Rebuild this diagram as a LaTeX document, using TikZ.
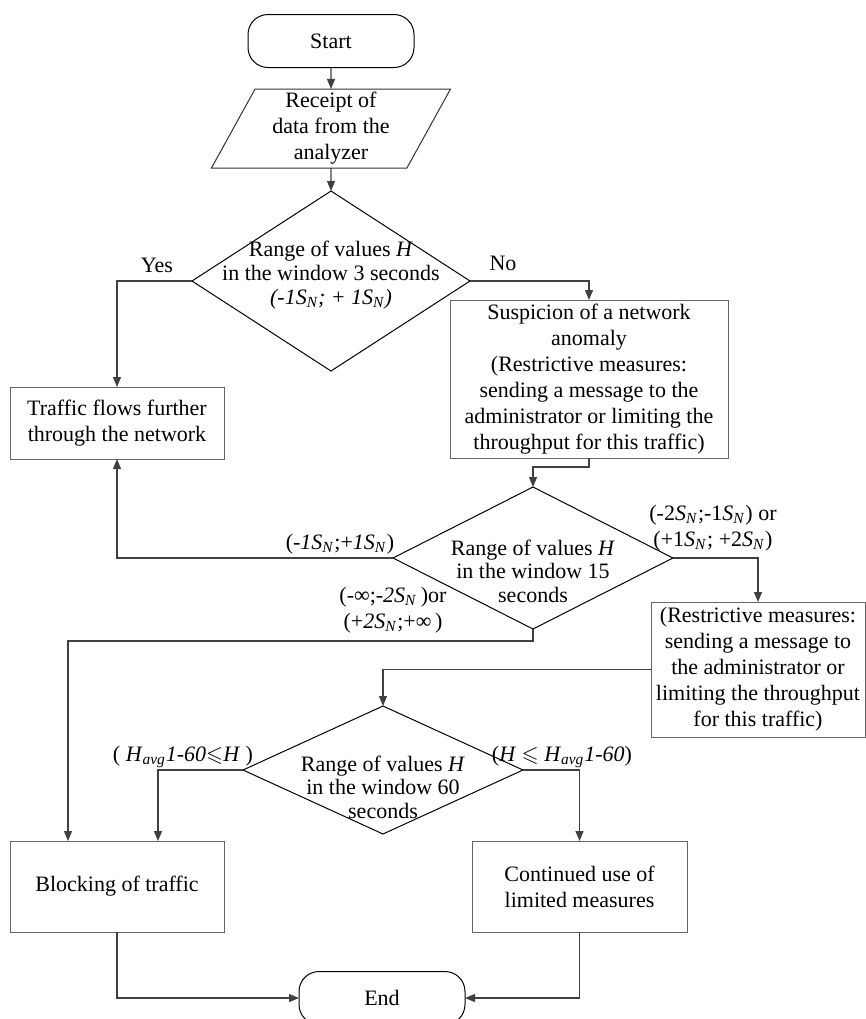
\documentclass[tikz,border=0pt]{standalone}
\usepackage{fontspec}
\usepackage{amssymb}
\setmainfont{Liberation Serif}
\usetikzlibrary{shapes.geometric,arrows.meta}

\newcommand{\SN}{\textit{S}\textsubscript{\textit{N}}}
\newcommand{\Havg}{\textit{H}\textsubscript{\textit{avg}}}

\tikzset{
  proc/.style={draw=black!60, line width=0.5pt, rectangle, align=center, inner sep=0pt, outer sep=0pt},
  term/.style={draw=black, line width=0.5pt, rounded corners=10pt, minimum width=83pt, minimum height=26.5pt, inner sep=0pt, outer sep=0pt},
  io/.style={draw=black!80, line width=0.5pt, trapezium, trapezium left angle=65, trapezium right angle=115,
    trapezium stretches=true, minimum width=120pt, minimum height=39.5pt, align=center, inner sep=0pt, outer sep=0pt},
  decide/.style={draw=black, line width=0.5pt, diamond, inner sep=0pt, outer sep=0pt},
  dtext/.style={align=center, inner sep=0pt, font=\fontsize{11}{11.8}\selectfont},
  lbl/.style={align=center, inner sep=0pt},
  link/.style={draw=black!75, line width=0.6pt, -{Triangle[length=5pt,width=4pt]}},
}

\begin{document}
\begin{tikzpicture}[x=0.5pt, y=-0.5pt, font=\fontsize{11}{13}\selectfont]
  \useasboundingbox (0,0) rectangle (866,1019);

  % start and input
  \node[term] (start) at (331,41) {Start};
  \node[io] (recv) at (331,128.5) {Receipt of\\data from the\\analyzer};

  % first check, 3 seconds
  \node[decide, minimum width=139pt, minimum height=90pt] (dec1) at (331,281) {};
  \node[dtext] (dec1t) at (331,275) {Range of values \textit{H}\\in the window 3 seconds\\\textit{(-1\SN; + 1\SN)}};
  \node[lbl] (yes) at (157,265) {Yes};
  \node[lbl] (no) at (503,263) {No};
  \node[proc, minimum width=107pt, minimum height=36pt] (pass) at (117,423) {Traffic flows further\\through the network};
  \node[proc, minimum width=139pt, minimum height=79pt] (susp) at (589,379) {Suspicion of a network\\anomaly\\(Restrictive measures:\\sending a message to the\\administrator or limiting the\\throughput for this traffic)};

  % second check, 15 seconds
  \node[decide, minimum width=140pt, minimum height=71pt] (dec2) at (533,558) {};
  \node[dtext] (dec2t) at (533,571) {Range of values \textit{H}\\in the window 15\\seconds};
  \node[lbl] (lab21) at (340,544) {(-\textit{1}\SN;+\textit{1}\SN)};
  \node[lbl] (lab22) at (393,610) {(-∞;-\textit{2}\SN\,)or\\(+\textit{2}\SN;+∞\,)};
  \node[lbl] (lab23) at (713,528) {(-2\SN;-1\SN) or\\(+1\SN; +2\SN)};
  \node[proc, minimum width=107pt, minimum height=67.5pt] (restr) at (758,669.5) {(Restrictive measures:\\sending a message to\\the administrator or\\limiting the throughput\\for this traffic)};

  % third check, 60 seconds
  \node[decide, minimum width=140pt, minimum height=64pt] (dec3) at (383,770) {};
  \node[dtext] (dec3t) at (383,787) {Range of values \textit{H}\\in the window 60\\seconds};
  \node[lbl] (lab31) at (183,757) {( \Havg\textit{1-60}$\leqslant$\textit{H} )};
  \node[lbl] (lab32) at (562,757) {(\textit{H} $\leqslant$ \Havg\textit{1-60})};
  \node[proc, minimum width=107pt, minimum height=45.5pt] (block) at (117,886.5) {Blocking of traffic};
  \node[proc, minimum width=107.5pt, minimum height=45.5pt] (cont) at (579.5,886.5) {Continued use of\\limited measures};
  \node[term] (stop) at (382,998) {End};

  % connectors
  \draw[link] (start.south) -- (recv.north);
  \draw[link] (recv.south) -- (dec1.north);
  \draw[link] (dec1.west) -| (pass.north);
  \draw[link] (dec1.east) -| (susp.north);
  \draw[link] (susp.south) -- ++(0,9) -| (dec2.north);
  \draw[link] (dec2.west) -| (pass.south);
  \draw[link] (dec2.south) -- ++(0,12) -| ([xshift=-24.5pt]block.north);
  \draw[link] (dec2.east) -| (restr.north);
  \draw[link] (restr.west) -| (dec3.north);
  \draw[link] (dec3.west) -| ([xshift=20.5pt]block.north);
  \draw[link] (dec3.east) -| (cont.north);
  \draw[link] (block.south) |- (stop.west);
  \draw[link] (cont.south) |- (stop.east);
\end{tikzpicture}
\end{document}
